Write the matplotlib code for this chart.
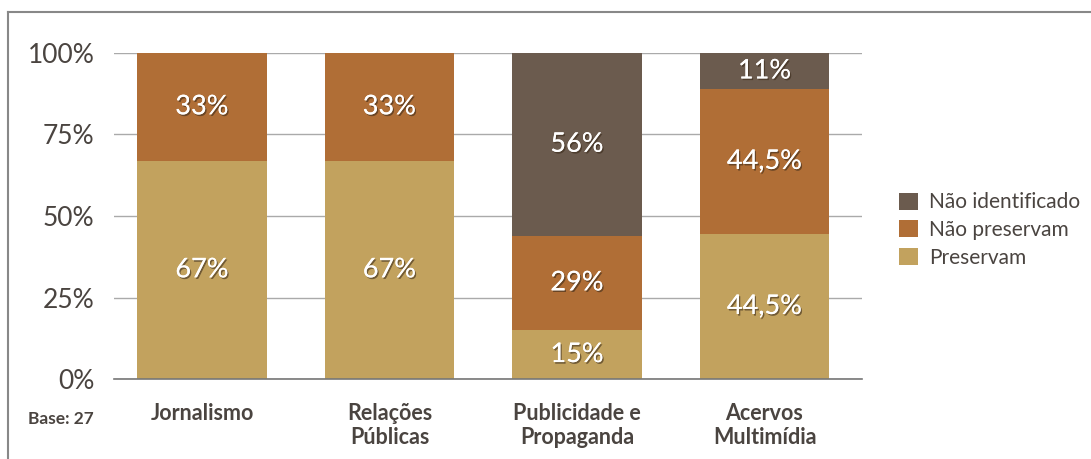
import matplotlib

matplotlib.use("Agg")
import matplotlib.pyplot as plt
import matplotlib.patheffects as pe
from matplotlib.lines import Line2D

plt.rcParams["font.family"] = ["Lato", "DejaVu Sans"]

categories = ["Jornalismo", "Relações\nPúblicas", "Publicidade e\nPropaganda", "Acervos\nMultimídia"]
preservam = [67, 67, 15, 44.5]
nao_preservam = [33, 33, 29, 44.5]
nao_identificado = [0, 0, 56, 11]
series_names = ["Preservam", "Não preservam", "Não identificado"]
colors = ["#c2a25e", "#b06e36", "#6b5b4e"]
yticks = [0, 25, 50, 75, 100]


def fmt(v):
    s = f"{v:g}%"
    return s.replace(".", ",")


fig = plt.figure(figsize=(10.91, 4.59), dpi=100)
ax = fig.add_axes([114 / 1091, 1 - 379 / 459, (862 - 114) / 1091, (379 - 53) / 459])

x = list(range(len(categories)))
width = 0.69
bottom = [0] * len(categories)
shadow = [pe.withSimplePatchShadow(offset=(1, -1.2), shadow_rgbFace="#3a2a1a", alpha=0.6), pe.Normal()]
handles = []
for vals, name, col in zip([preservam, nao_preservam, nao_identificado], series_names, colors):
    bars = ax.bar(x, vals, width, bottom=bottom, color=col, label=name, zorder=2)
    handles.append(bars)
    for xi, v, b in zip(x, vals, bottom):
        if v > 0:
            ax.text(xi, b + v / 2, fmt(v), ha="center", va="center", color="white",
                    fontsize=19.5, path_effects=shadow, zorder=3)
    bottom = [b + v for b, v in zip(bottom, vals)]

ax.set_xlim(-0.47, 3.52)
ax.set_ylim(0, 100)
ax.set_yticks(yticks)
ax.set_yticklabels([f"{t}%" for t in yticks], fontsize=19, color="#4a4440")
ax.set_xticks(x)
ax.set_xticklabels(categories, fontsize=15.5, fontweight="bold", color="#4a4440", linespacing=1.2)
ax.tick_params(axis="both", length=0)
ax.tick_params(axis="y", pad=14)
ax.tick_params(axis="x", pad=17)
ax.grid(axis="y", color="#aaaaaa", linewidth=1, zorder=0)
for s in ["top", "right", "left"]:
    ax.spines[s].set_visible(False)
ax.spines["bottom"].set_color("#777777")
ax.spines["bottom"].set_linewidth(1.2)
ax.spines["bottom"].set_zorder(4)

leg = fig.legend(handles[::-1], series_names[::-1], loc="center left",
                 bbox_to_anchor=(880 / 1091, 1 - 230 / 459), frameon=False,
                 fontsize=15, handlelength=0.9, handleheight=0.9, handletextpad=0.55,
                 labelspacing=0.36)
for t in leg.get_texts():
    t.set_color("#4a4440")

fig.text(61 / 1091, 1 - 419 / 459, "Base: 27", fontsize=12.5, fontweight="bold",
         color="#4a4440", ha="center", va="center")

# frame around figure (only top and left visible in the reference)
fig.add_artist(Line2D([8 / 1091, 8 / 1091], [0, 1 - 12 / 459], color="#888888", lw=1.5))
fig.add_artist(Line2D([8 / 1091, 1], [1 - 12 / 459, 1 - 12 / 459], color="#888888", lw=1.5))

fig.savefig("out.png", dpi=100)
